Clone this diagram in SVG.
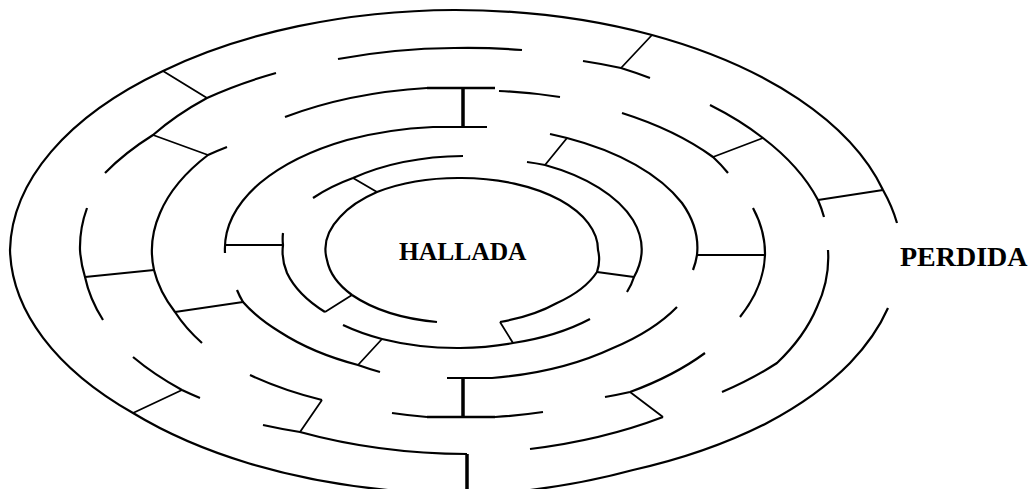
<svg xmlns="http://www.w3.org/2000/svg" width="1032" height="489" viewBox="0 0 1032 489">
<style>
.w{fill:none;stroke:#000;stroke-width:2.2;stroke-linecap:butt}
.c{fill:none;stroke:#000;stroke-width:1.8}
.t{fill:none;stroke:#000;stroke-width:3.5}
.b{fill:none;stroke:#000;stroke-width:2.6}
.lbl{font-family:"Liberation Serif","Times New Roman",serif;font-weight:bold;fill:#000}
</style>
<rect width="1032" height="489" fill="#fff"/>
<g id="ring1">
<path class="w" d="M388,490 A444,241 0 0 1 133,413 A444,241 0 0 1 10,250 A444,241 0 0 1 163,71 A444,241 0 0 1 454,10 A444,241 0 0 1 652,35 A444,241 0 0 1 883,190 A444,241 0 0 1 897,223"/>
<path class="w" d="M888,308 A444,241 0 0 1 850,363 A444,241 0 0 1 767,423 A444,241 0 0 1 633,470 A444,241 0 0 1 530,490"/>
</g>
<g id="ring2">
<path class="w" d="M105,173 A374,203 0 0 1 153,135 A374,203 0 0 1 207,98 A374,203 0 0 1 276,73"/>
<path class="w" d="M338,59 A374,203 0 0 1 454,48 A374,203 0 0 1 522,50"/>
<path class="w" d="M583,61 A374,203 0 0 1 621,68 A374,203 0 0 1 650,78"/>
<path class="w" d="M710,105 A374,203 0 0 1 763,138 A374,203 0 0 1 818,200 A374,203 0 0 1 824,217"/>
<path class="w" d="M828,250 A374,203 0 0 1 817,307 A374,203 0 0 1 777,363 A374,203 0 0 1 722,392"/>
<path class="w" d="M663,417 A374,203 0 0 1 530,449"/>
<path class="w" d="M467,454 A374,203 0 0 1 300,432 A374,203 0 0 1 263,425"/>
<path class="w" d="M200,398 A374,203 0 0 1 182,390 A374,203 0 0 1 133,357"/>
<path class="w" d="M103,320 A374,203 0 0 1 85,277 A374,203 0 0 1 80,250 A374,203 0 0 1 87,208"/>
</g>
<g id="ring3">
<path class="w" d="M285,117 A306,164.5 0 0 1 427,88"/>
<path class="w" d="M499,91 A306,164.5 0 0 1 560,97"/>
<path class="w" d="M622,113 A306,164.5 0 0 1 713,157 A306,164.5 0 0 1 728,173"/>
<path class="w" d="M753,208 A306,164.5 0 0 1 765,255 A306,164.5 0 0 1 740,317"/>
<path class="w" d="M705,353 A306,164.5 0 0 1 630,392 A306,164.5 0 0 1 605,397"/>
<path class="w" d="M543,412 A306,164.5 0 0 1 495,417 M427,417 A306,164.5 0 0 1 392,413"/>
<path class="w" d="M322,400 A306,164.5 0 0 1 250,375"/>
<path class="w" d="M202,343 A306,164.5 0 0 1 175,312 A306,164.5 0 0 1 154,270 A306,164.5 0 0 1 160,213 A306,164.5 0 0 1 208,155 A306,164.5 0 0 1 227,147"/>
</g>
<g id="ring4">
<path class="w" d="M225,253 A236,126 0 0 1 260,183 A236,126 0 0 1 347,140 A236,126 0 0 1 433,127 L487,127"/>
<path class="w" d="M550,134 A236,126 0 0 1 567,138 A236,126 0 0 1 682,203 A236,126 0 0 1 697,255 A236,126 0 0 1 693,270"/>
<path class="w" d="M677,307 A236,126 0 0 1 613,348 A236,126 0 0 1 492,378 L447,378"/>
<path class="w" d="M380,372 A236,126 0 0 1 358,365 A236,126 0 0 1 280,332 A236,126 0 0 1 243,302 A236,126 0 0 1 237,290"/>
</g>
<g id="ring5">
<path class="w" d="M313,198 A178,96 0 0 1 353,178 A178,96 0 0 1 463,156"/>
<path class="w" d="M527,162 A178,96 0 0 1 545,165 A178,96 0 0 1 633,220 A178,96 0 0 1 634,277 A178,96 0 0 1 627,292"/>
<path class="w" d="M590,319 A178,96 0 0 1 513,343 A178,96 0 0 1 460,348 A178,96 0 0 1 382,339 A178,96 0 0 1 343,325"/>
<path class="w" d="M325,312 A178,96 0 0 1 287,273 A178,96 0 0 1 283,245 A178,96 0 0 1 283,233"/>
</g>
<g id="ring6">
<path class="w" d="M437,322 A137,72 0 0 1 352,295 A137,72 0 0 1 327,260 A137,72 0 0 1 340,217 A137,72 0 0 1 377,192 A137,72 0 0 1 460,178 A137,72 0 0 1 560,200 A137,72 0 0 1 598,250 A137,72 0 0 1 597,272 A137,72 0 0 1 557,303 A137,72 0 0 1 500,322"/>
</g>
<g id="connectors">
<path class="c" d="M163,71 L207,98 M652,35 L621,68 M883,190 L818,200 M133,413 L182,390"/>
<path class="c" d="M153,135 L208,155 M763,138 L713,157 M85,277 L154,270 M300,432 L322,400 M663,417 L630,392"/>
<path class="c" d="M175,312 L243,302 M765,255 L697,255 M225,245 L283,245 M567,138 L545,165 M358,365 L382,339"/>
<path class="c" d="M353,178 L377,192 M634,277 L597,272 M513,343 L500,322 M325,312 L352,295"/>
<path class="b" d="M427,88 L495,88 M427,417 L495,417"/>
<path class="t" d="M463,88 L463,127 M463,378 L463,417 M467,454 L467,490"/>
</g>
<g id="labels">
<text class="lbl" x="399" y="260" font-size="25.5">HALLADA</text>
<text class="lbl" x="900" y="266" font-size="28">PERDIDA</text>
</g>
</svg>
